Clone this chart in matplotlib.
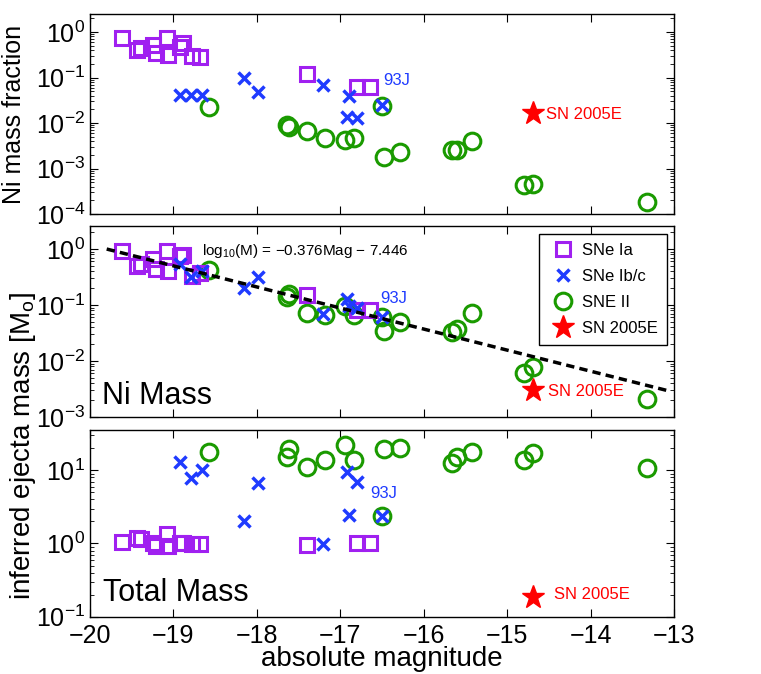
import numpy as np
import matplotlib
matplotlib.use('Agg')
import matplotlib.pyplot as plt
from matplotlib.ticker import LogLocator, NullFormatter

plt.rcParams['font.family'] = ['Liberation Sans', 'DejaVu Sans']
plt.rcParams['mathtext.fontset'] = 'custom'
plt.rcParams['mathtext.rm'] = 'Liberation Sans'
plt.rcParams['mathtext.it'] = 'Liberation Sans:italic'
plt.rcParams['mathtext.bf'] = 'Liberation Sans:bold'

# SNe Ia
ia_mag = [-19.62, -19.44, -19.39, -19.24, -19.21, -19.08, -19.06, -18.92, -18.88, -18.78, -18.68, -17.40, -16.80, -16.64]
ia_frac = [0.75, 0.40, 0.44, 0.52, 0.34, 0.73, 0.31, 0.48, 0.56, 0.29, 0.28, 0.12, 0.063, 0.063]
ia_ni = [0.93, 0.49, 0.55, 0.65, 0.43, 0.91, 0.40, 0.75, 0.79, 0.33, 0.38, 0.15, 0.08, 0.08]
ia_tot = [1.06, 1.19, 1.15, 1.03, 0.93, 1.35, 0.93, 1.03, 1.0, 0.99, 0.98, 0.96, 1.0, 1.0]

# SNe Ib/c
ibc_mag = [-18.92, -18.79, -18.66, -18.16, -17.99, -17.21, -16.90, -16.92, -16.80, -16.50]
ibc_frac = [0.041, 0.041, 0.041, 0.099, 0.049, 0.068, 0.039, 0.0133, 0.0126, 0.025]
ibc_ni = [0.53, 0.32, 0.41, 0.20, 0.32, 0.069, 0.096, 0.127, 0.087, 0.061]
ibc_tot = [13.0, 7.9, 10.0, 2.0, 6.6, 0.98, 2.45, 9.5, 6.9, 2.4]

# SNe II
ii_mag = [-18.57, -17.64, -17.62, -17.40, -17.18, -16.94, -16.84, -16.50, -16.48, -16.29,
          -15.66, -15.60, -15.42, -14.80, -14.69, -13.32]
ii_frac = [0.022, 0.0090, 0.0080, 0.0067, 0.0048, 0.0042, 0.0048, 0.024, 0.0018, 0.0023,
           0.0025, 0.0025, 0.0041, 0.00043, 0.00046, 0.000186]
ii_ni = [0.42, 0.138, 0.156, 0.072, 0.065, 0.097, 0.065, 0.061, 0.035, 0.050,
         0.033, 0.038, 0.072, 0.0062, 0.0077, 0.0021]
ii_tot = [17.9, 15.0, 19.3, 11.1, 13.7, 22.0, 14.0, 2.4, 19.3, 19.9,
          12.6, 15.0, 17.9, 14.0, 17.0, 10.9]

# SN 2005E
e_mag = [-14.69]
e_frac = [0.0163]
e_ni = [0.0030]
e_tot = [0.185]

# fit: log10(M) = slope*Mag + icpt
slope, icpt = -0.376, -7.446
fit_mag = np.array([-19.8, -13.08])

purple = '#A020F0'
blue = '#1F3BFF'
green = '#1A9A00'
red = '#FF0000'

fig = plt.figure(figsize=(7.61, 6.74), dpi=100)
W, H = 761.0, 674.0
def box(top, bot):
    return [90 / W, 1 - bot / H, 584 / W, (bot - top) / H]

ax1 = fig.add_axes(box(14, 214))
ax2 = fig.add_axes(box(226, 417))
ax3 = fig.add_axes(box(430, 616.7))

panels = [(ax1, ia_frac, ibc_frac, ii_frac, e_frac),
          (ax2, ia_ni, ibc_ni, ii_ni, e_ni),
          (ax3, ia_tot, ibc_tot, ii_tot, e_tot)]

for ax, ya, yb, yc, ye in panels:
    ax.plot(ii_mag, yc, 'o', mfc='none', mec=green, mew=2.2, ms=12, ls='none', label='SNE II')
    ax.plot(ia_mag, ya, 's', mfc='none', mec=purple, mew=2.2, ms=10, ls='none', label='SNe Ia')
    ax.plot(ibc_mag, yb, 'x', color=blue, mew=2.5, ms=8, ls='none', label='SNe Ib/c')
    ax.plot(e_mag, ye, '*', color=red, mec=red, ms=17, ls='none', label='SN 2005E')
    ax.set_yscale('log')
    ax.set_xlim(-20, -13)
    ax.yaxis.set_major_locator(LogLocator(base=10, numticks=10))
    ax.yaxis.set_minor_locator(LogLocator(base=10, subs=np.arange(2, 10), numticks=10))
    ax.yaxis.set_minor_formatter(NullFormatter())
    ax.tick_params(which='both', direction='in', top=True, right=True, labelsize=18)
    ax.tick_params(which='major', length=6, width=0.8)
    ax.tick_params(which='minor', length=3, width=0.6)
    ax.tick_params(axis='x', pad=5)
    for s in ax.spines.values():
        s.set_linewidth(1.0)

ax1.set_ylim(1e-4, 10 ** 0.396)
ax2.set_ylim(1e-3, 10 ** 0.41)
ax3.set_ylim(1e-1, 10 ** 1.55)
ax1.tick_params(labelbottom=False)
ax2.tick_params(labelbottom=False)

ax2.plot(fit_mag, 10 ** (slope * fit_mag + icpt), '--', color='k', lw=2.5, dashes=(2.4, 1.5), zorder=5)
ax2.text(-18.66, 0.79, r'log$_{10}$(M) = $-$0.376Mag $-$ 7.446', fontsize=11, va='baseline', ha='left')

ax1.text(-16.49, 0.088, '93J', color=blue, fontsize=12, va='center', ha='left')
ax2.text(-16.52, 0.128, '93J', color=blue, fontsize=12, va='center', ha='left')
ax3.text(-16.64, 4.8, '93J', color=blue, fontsize=12, va='center', ha='left')

ax1.text(-14.53, 0.015, 'SN 2005E', color=red, fontsize=12, va='center', ha='left')
ax2.text(-14.51, 0.0028, 'SN 2005E', color=red, fontsize=12, va='center', ha='left')
ax3.text(-14.44, 0.203, 'SN 2005E', color=red, fontsize=12, va='center', ha='left')

ax2.text(-19.86, 0.00168, 'Ni Mass', fontsize=22, va='baseline', ha='left')
ax3.text(-19.84, 0.163, 'Total Mass', fontsize=22, va='baseline', ha='left')

h, l = ax2.get_legend_handles_labels()
order = [1, 2, 0, 3]
leg = ax2.legend([h[i] for i in order], [l[i] for i in order], loc='upper right',
                 bbox_to_anchor=(0.988, 0.958), borderaxespad=0, fontsize=12,
                 fancybox=False, edgecolor='k', framealpha=1, labelspacing=0.66,
                 handlelength=1.8, handletextpad=0.25, borderpad=0.55)
leg.get_frame().set_linewidth(1.0)

ax1.set_ylabel('Ni mass fraction', fontsize=18)
ax1.yaxis.set_label_coords(-0.11, 0.5)
fig.text(23 / W, 1 - 446 / H, r'inferred ejecta mass [M$_\mathrm{o}$]', fontsize=20,
         rotation=90, va='center', ha='center')
ax3.set_xlabel('absolute magnitude', fontsize=20, labelpad=-1)

fig.savefig('out.png', dpi=100)
